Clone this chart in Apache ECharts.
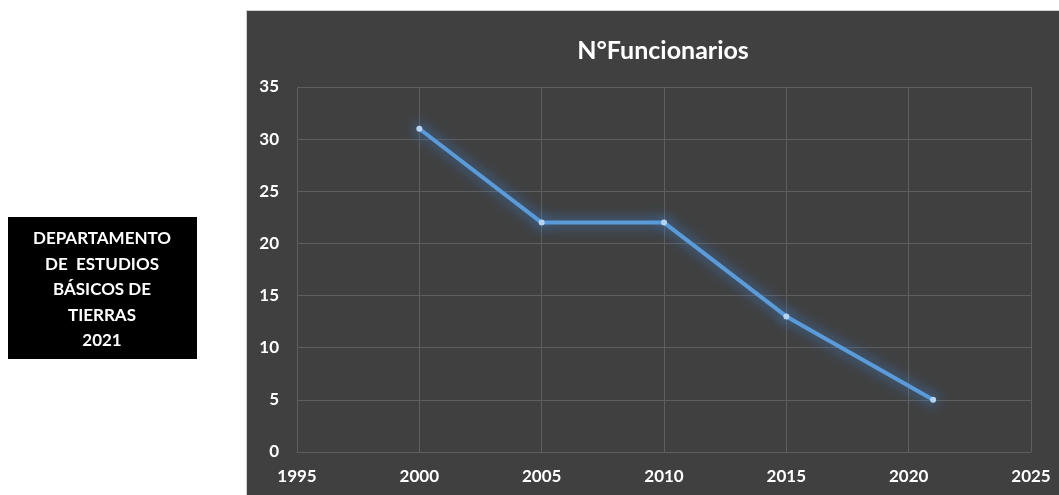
<!DOCTYPE html>
<html><head><meta charset="utf-8">
<script src="https://cdn.jsdelivr.net/npm/echarts@6/dist/echarts.min.js"></script>
<style>html,body{margin:0;padding:0;background:#fff}#c{width:1059px;height:495px}</style>
</head><body><div id="c"></div>
<script>
const title = 'N°Funcionarios';
const years = [2000, 2005, 2010, 2015, 2021];
const funcionarios = [31, 22, 22, 13, 5];
const boxLines = ['DEPARTAMENTO', 'DE  ESTUDIOS', 'BÁSICOS DE', 'TIERRAS', '2021'];
const xRange = [1995, 2025, 5];
const yRange = [0, 35, 5];

const font = 'Lato, "Open Sans", sans-serif';
const chart = echarts.init(document.getElementById('c'), null, {renderer: 'canvas'});
chart.setOption({
  backgroundColor: '#ffffff',
  animation: false,
  graphic: [
    {type: 'rect', left: 246, top: 10, z: -10, silent: true,
     shape: {width: 813, height: 485}, style: {fill: '#404040', stroke: '#d0d0d0', lineWidth: 1}},
    {type: 'rect', left: 8, top: 217, z: -10, silent: true,
     shape: {width: 189, height: 142}, style: {fill: '#000000'}},
    {type: 'text', left: 7, top: 226, z: 10, silent: true,
     style: {text: boxLines.join('\n'), fill: '#ffffff', font: 'bold 17px ' + font,
             width: 190, align: 'center', lineHeight: 25.5, textAlign: 'center', x: 95}}
  ],
  title: {text: title, left: 658, top: 33, textAlign: 'center',
    textStyle: {color: '#ffffff', fontWeight: 'bold', fontSize: 25, fontFamily: font}},
  grid: {left: 297, top: 87, right: 28, bottom: 43},
  xAxis: {type: 'value', min: xRange[0], max: xRange[1], interval: xRange[2],
    axisLine: {show: true, lineStyle: {color: '#5e5e5e', width: 1}},
    axisTick: {show: false},
    splitLine: {show: true, lineStyle: {color: '#5e5e5e', width: 1}},
    axisLabel: {color: '#ffffff', fontWeight: 'bold', fontSize: 17, fontFamily: font, margin: 16,
      formatter: v => String(v)}},
  yAxis: {type: 'value', min: yRange[0], max: yRange[1], interval: yRange[2],
    axisLine: {show: true, lineStyle: {color: '#5e5e5e', width: 1}},
    axisTick: {show: false},
    splitLine: {show: true, lineStyle: {color: '#5e5e5e', width: 1}},
    axisLabel: {color: '#ffffff', fontWeight: 'bold', fontSize: 17, fontFamily: font, margin: 18}},
  series: [{
    type: 'line',
    data: years.map((y, i) => [y, funcionarios[i]]),
    symbol: 'circle', symbolSize: 6,
    itemStyle: {color: '#b4d4f2', borderWidth: 0, shadowBlur: 14, shadowColor: 'rgba(70,150,240,1)'},
    lineStyle: {color: '#5b9bd9', width: 4, shadowBlur: 14, shadowColor: 'rgba(60,140,235,0.95)'}
  }]
});
</script></body></html>
